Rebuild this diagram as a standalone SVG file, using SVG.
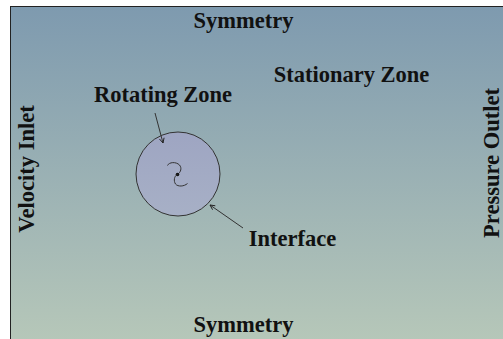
<svg xmlns="http://www.w3.org/2000/svg" width="503" height="339" viewBox="0 0 503 339">
<defs>
<linearGradient id="bg" x1="0" y1="0" x2="0" y2="1">
<stop offset="0" stop-color="#7e9aaf"/>
<stop offset="1" stop-color="#b7c8b9"/>
</linearGradient>
<linearGradient id="zone" x1="0" y1="0" x2="0" y2="1">
<stop offset="0" stop-color="#9ea5c2"/>
<stop offset="1" stop-color="#a7b0c6"/>
</linearGradient>
<marker id="ah" viewBox="0 0 10 10" refX="9" refY="5" markerWidth="6" markerHeight="6" orient="auto" markerUnits="userSpaceOnUse">
<path d="M1,1 L9,5 L1,9" fill="none" stroke="#222" stroke-width="1.5"/>
</marker>
</defs>
<style>
.t{font-family:"Liberation Serif","Times New Roman",serif;font-weight:bold;font-size:22.5px;fill:#111}
.c{fill:none;stroke:#333;stroke-width:1}
</style>
<rect x="0" y="0" width="503" height="339" fill="#ffffff"/>
<rect x="10.5" y="6.5" width="500" height="340" fill="url(#bg)" stroke="#222" stroke-width="1"/>
<g id="rotating-zone">
<circle cx="178" cy="174" r="42" fill="url(#zone)" stroke="#333" stroke-width="1"/>
<path class="c" d="M167.5,165.5 C169,162 176,161.5 179.5,165 C182,168 181,172 177.5,174.5"/>
<circle cx="177.5" cy="174.5" r="1.8" fill="#111"/>
<path class="c" d="M177.5,174.5 C174,176 173.5,181 175.5,184 C178,187 184,186.5 187.5,183.5"/>
</g>
<g id="labels">
<text class="t" x="243.5" y="28" text-anchor="middle">Symmetry</text>
<text class="t" x="243.5" y="332" text-anchor="middle">Symmetry</text>
<text class="t" x="351.5" y="82" text-anchor="middle">Stationary Zone</text>
<text class="t" x="163" y="102" text-anchor="middle">Rotating Zone</text>
<text class="t" x="292.5" y="246" text-anchor="middle">Interface</text>
<text class="t" transform="translate(34,169) rotate(-90)" text-anchor="middle">Velocity Inlet</text>
<text class="t" transform="translate(499,163) rotate(-90)" text-anchor="middle">Pressure Outlet</text>
</g>
<g id="connectors">
<line class="c" x1="155" y1="113" x2="163" y2="143" marker-end="url(#ah)"/>
<line class="c" x1="243" y1="228" x2="210" y2="205" marker-end="url(#ah)"/>
</g>
</svg>
